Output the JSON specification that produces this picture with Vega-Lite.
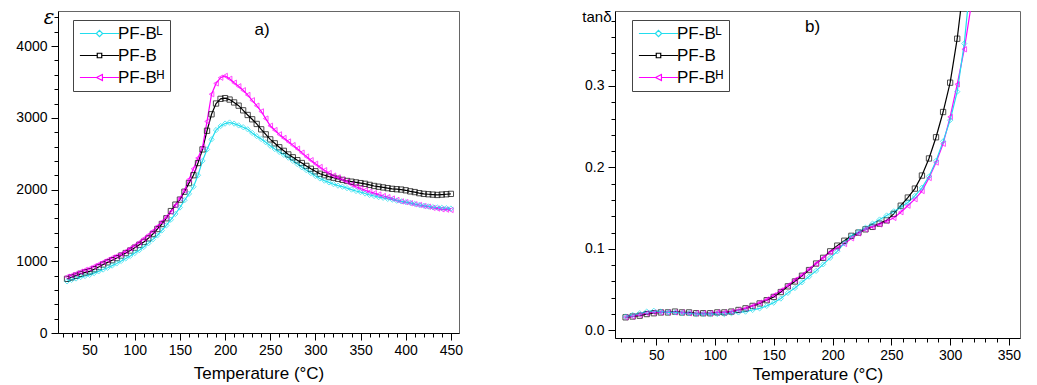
{
"$schema": "https://vega.github.io/schema/vega-lite/v6.json",
"padding": {"left": 15, "top": 6, "right": 5, "bottom": 0},
"background": "white",
"bounds": "flush",
"spacing": 156,
"config": {
  "font": "Liberation Sans",
  "view": {"stroke": "#666", "strokeWidth": 1},
  "axis": {"domainColor": "#000", "tickColor": "#000", "labelColor": "#000", "titleColor": "#000", "grid": false, "labelFont": "Liberation Sans", "titleFont": "Liberation Sans", "labelFontSize": 14, "titleFontSize": 17, "titleFontWeight": "normal", "tickWidth": 1, "domainWidth": 1, "labelOverlap": false, "labelFlush": false}
},
"datasets": {
"left": [
{"T":25,"v":755,"s":"B"},{"T":30,"v":775,"s":"B"},{"T":35,"v":800,"s":"B"},{"T":40,"v":825,"s":"B"},{"T":45,"v":845,"s":"B"},{"T":50,"v":860,"s":"B"},{"T":55,"v":890,"s":"B"},{"T":60,"v":920,"s":"B"},{"T":65,"v":955,"s":"B"},{"T":70,"v":985,"s":"B"},{"T":75,"v":1015,"s":"B"},{"T":80,"v":1045,"s":"B"},{"T":85,"v":1080,"s":"B"},{"T":90,"v":1115,"s":"B"},{"T":95,"v":1150,"s":"B"},{"T":100,"v":1190,"s":"B"},{"T":105,"v":1230,"s":"B"},{"T":110,"v":1270,"s":"B"},{"T":115,"v":1320,"s":"B"},{"T":120,"v":1380,"s":"B"},{"T":125,"v":1450,"s":"B"},{"T":130,"v":1520,"s":"B"},{"T":135,"v":1600,"s":"B"},{"T":140,"v":1700,"s":"B"},{"T":145,"v":1790,"s":"B"},{"T":150,"v":1860,"s":"B"},{"T":155,"v":1970,"s":"B"},{"T":160,"v":2090,"s":"B"},{"T":165,"v":2200,"s":"B"},{"T":170,"v":2370,"s":"B"},{"T":175,"v":2560,"s":"B"},{"T":180,"v":2820,"s":"B"},{"T":185,"v":3050,"s":"B"},{"T":190,"v":3200,"s":"B"},{"T":195,"v":3265,"s":"B"},{"T":200,"v":3275,"s":"B"},{"T":205,"v":3255,"s":"B"},{"T":210,"v":3215,"s":"B"},{"T":215,"v":3170,"s":"B"},{"T":220,"v":3105,"s":"B"},{"T":225,"v":3040,"s":"B"},{"T":230,"v":2980,"s":"B"},{"T":235,"v":2915,"s":"B"},{"T":240,"v":2840,"s":"B"},{"T":245,"v":2770,"s":"B"},{"T":250,"v":2700,"s":"B"},{"T":255,"v":2645,"s":"B"},{"T":260,"v":2590,"s":"B"},{"T":265,"v":2540,"s":"B"},{"T":270,"v":2490,"s":"B"},{"T":275,"v":2450,"s":"B"},{"T":280,"v":2410,"s":"B"},{"T":285,"v":2370,"s":"B"},{"T":290,"v":2330,"s":"B"},{"T":295,"v":2290,"s":"B"},{"T":300,"v":2255,"s":"B"},{"T":305,"v":2220,"s":"B"},{"T":310,"v":2200,"s":"B"},{"T":315,"v":2180,"s":"B"},{"T":320,"v":2165,"s":"B"},{"T":325,"v":2150,"s":"B"},{"T":330,"v":2135,"s":"B"},{"T":335,"v":2120,"s":"B"},{"T":340,"v":2110,"s":"B"},{"T":345,"v":2100,"s":"B"},{"T":350,"v":2090,"s":"B"},{"T":355,"v":2080,"s":"B"},{"T":360,"v":2065,"s":"B"},{"T":365,"v":2050,"s":"B"},{"T":370,"v":2040,"s":"B"},{"T":375,"v":2030,"s":"B"},{"T":380,"v":2020,"s":"B"},{"T":385,"v":2010,"s":"B"},{"T":390,"v":2005,"s":"B"},{"T":395,"v":2000,"s":"B"},{"T":400,"v":1990,"s":"B"},{"T":405,"v":1975,"s":"B"},{"T":410,"v":1965,"s":"B"},{"T":415,"v":1950,"s":"B"},{"T":420,"v":1940,"s":"B"},{"T":425,"v":1935,"s":"B"},{"T":430,"v":1930,"s":"B"},{"T":435,"v":1925,"s":"B"},{"T":440,"v":1930,"s":"B"},{"T":445,"v":1935,"s":"B"},{"T":450,"v":1940,"s":"B"},
{"T":25,"v":785,"s":"H"},{"T":30,"v":805,"s":"H"},{"T":35,"v":830,"s":"H"},{"T":40,"v":855,"s":"H"},{"T":45,"v":880,"s":"H"},{"T":50,"v":900,"s":"H"},{"T":55,"v":930,"s":"H"},{"T":60,"v":960,"s":"H"},{"T":65,"v":990,"s":"H"},{"T":70,"v":1020,"s":"H"},{"T":75,"v":1050,"s":"H"},{"T":80,"v":1075,"s":"H"},{"T":85,"v":1100,"s":"H"},{"T":90,"v":1140,"s":"H"},{"T":95,"v":1180,"s":"H"},{"T":100,"v":1220,"s":"H"},{"T":105,"v":1265,"s":"H"},{"T":110,"v":1315,"s":"H"},{"T":115,"v":1365,"s":"H"},{"T":120,"v":1420,"s":"H"},{"T":125,"v":1485,"s":"H"},{"T":130,"v":1550,"s":"H"},{"T":135,"v":1620,"s":"H"},{"T":140,"v":1690,"s":"H"},{"T":145,"v":1780,"s":"H"},{"T":150,"v":1880,"s":"H"},{"T":155,"v":1990,"s":"H"},{"T":160,"v":2140,"s":"H"},{"T":165,"v":2290,"s":"H"},{"T":170,"v":2440,"s":"H"},{"T":175,"v":2590,"s":"H"},{"T":180,"v":2950,"s":"H"},{"T":185,"v":3330,"s":"H"},{"T":190,"v":3480,"s":"H"},{"T":195,"v":3560,"s":"H"},{"T":200,"v":3585,"s":"H"},{"T":205,"v":3545,"s":"H"},{"T":210,"v":3490,"s":"H"},{"T":215,"v":3440,"s":"H"},{"T":220,"v":3385,"s":"H"},{"T":225,"v":3320,"s":"H"},{"T":230,"v":3245,"s":"H"},{"T":235,"v":3170,"s":"H"},{"T":240,"v":3090,"s":"H"},{"T":245,"v":2990,"s":"H"},{"T":250,"v":2890,"s":"H"},{"T":255,"v":2830,"s":"H"},{"T":260,"v":2770,"s":"H"},{"T":265,"v":2720,"s":"H"},{"T":270,"v":2670,"s":"H"},{"T":275,"v":2620,"s":"H"},{"T":280,"v":2570,"s":"H"},{"T":285,"v":2515,"s":"H"},{"T":290,"v":2460,"s":"H"},{"T":295,"v":2410,"s":"H"},{"T":300,"v":2360,"s":"H"},{"T":305,"v":2315,"s":"H"},{"T":310,"v":2270,"s":"H"},{"T":315,"v":2230,"s":"H"},{"T":320,"v":2195,"s":"H"},{"T":325,"v":2170,"s":"H"},{"T":330,"v":2140,"s":"H"},{"T":335,"v":2110,"s":"H"},{"T":340,"v":2070,"s":"H"},{"T":345,"v":2040,"s":"H"},{"T":350,"v":2015,"s":"H"},{"T":355,"v":1990,"s":"H"},{"T":360,"v":1970,"s":"H"},{"T":365,"v":1950,"s":"H"},{"T":370,"v":1930,"s":"H"},{"T":375,"v":1910,"s":"H"},{"T":380,"v":1895,"s":"H"},{"T":385,"v":1875,"s":"H"},{"T":390,"v":1855,"s":"H"},{"T":395,"v":1835,"s":"H"},{"T":400,"v":1825,"s":"H"},{"T":405,"v":1810,"s":"H"},{"T":410,"v":1795,"s":"H"},{"T":415,"v":1785,"s":"H"},{"T":420,"v":1770,"s":"H"},{"T":425,"v":1760,"s":"H"},{"T":430,"v":1745,"s":"H"},{"T":435,"v":1735,"s":"H"},{"T":440,"v":1725,"s":"H"},{"T":445,"v":1720,"s":"H"},{"T":450,"v":1715,"s":"H"},
{"T":25,"v":720,"s":"L"},{"T":30,"v":740,"s":"L"},{"T":35,"v":760,"s":"L"},{"T":40,"v":780,"s":"L"},{"T":45,"v":795,"s":"L"},{"T":50,"v":810,"s":"L"},{"T":55,"v":835,"s":"L"},{"T":60,"v":860,"s":"L"},{"T":65,"v":885,"s":"L"},{"T":70,"v":910,"s":"L"},{"T":75,"v":940,"s":"L"},{"T":80,"v":970,"s":"L"},{"T":85,"v":1005,"s":"L"},{"T":90,"v":1040,"s":"L"},{"T":95,"v":1075,"s":"L"},{"T":100,"v":1115,"s":"L"},{"T":105,"v":1155,"s":"L"},{"T":110,"v":1200,"s":"L"},{"T":115,"v":1250,"s":"L"},{"T":120,"v":1305,"s":"L"},{"T":125,"v":1360,"s":"L"},{"T":130,"v":1430,"s":"L"},{"T":135,"v":1500,"s":"L"},{"T":140,"v":1580,"s":"L"},{"T":145,"v":1660,"s":"L"},{"T":150,"v":1750,"s":"L"},{"T":155,"v":1850,"s":"L"},{"T":160,"v":1940,"s":"L"},{"T":165,"v":2040,"s":"L"},{"T":170,"v":2200,"s":"L"},{"T":175,"v":2400,"s":"L"},{"T":180,"v":2560,"s":"L"},{"T":185,"v":2700,"s":"L"},{"T":190,"v":2830,"s":"L"},{"T":195,"v":2885,"s":"L"},{"T":200,"v":2920,"s":"L"},{"T":205,"v":2935,"s":"L"},{"T":210,"v":2920,"s":"L"},{"T":215,"v":2895,"s":"L"},{"T":220,"v":2870,"s":"L"},{"T":225,"v":2840,"s":"L"},{"T":230,"v":2790,"s":"L"},{"T":235,"v":2745,"s":"L"},{"T":240,"v":2705,"s":"L"},{"T":245,"v":2660,"s":"L"},{"T":250,"v":2610,"s":"L"},{"T":255,"v":2565,"s":"L"},{"T":260,"v":2525,"s":"L"},{"T":265,"v":2485,"s":"L"},{"T":270,"v":2445,"s":"L"},{"T":275,"v":2400,"s":"L"},{"T":280,"v":2355,"s":"L"},{"T":285,"v":2310,"s":"L"},{"T":290,"v":2270,"s":"L"},{"T":295,"v":2230,"s":"L"},{"T":300,"v":2190,"s":"L"},{"T":305,"v":2155,"s":"L"},{"T":310,"v":2125,"s":"L"},{"T":315,"v":2100,"s":"L"},{"T":320,"v":2075,"s":"L"},{"T":325,"v":2055,"s":"L"},{"T":330,"v":2040,"s":"L"},{"T":335,"v":2020,"s":"L"},{"T":340,"v":2000,"s":"L"},{"T":345,"v":1980,"s":"L"},{"T":350,"v":1965,"s":"L"},{"T":355,"v":1945,"s":"L"},{"T":360,"v":1925,"s":"L"},{"T":365,"v":1910,"s":"L"},{"T":370,"v":1895,"s":"L"},{"T":375,"v":1885,"s":"L"},{"T":380,"v":1870,"s":"L"},{"T":385,"v":1860,"s":"L"},{"T":390,"v":1845,"s":"L"},{"T":395,"v":1835,"s":"L"},{"T":400,"v":1825,"s":"L"},{"T":405,"v":1815,"s":"L"},{"T":410,"v":1800,"s":"L"},{"T":415,"v":1785,"s":"L"},{"T":420,"v":1775,"s":"L"},{"T":425,"v":1765,"s":"L"},{"T":430,"v":1755,"s":"L"},{"T":435,"v":1750,"s":"L"},{"T":440,"v":1745,"s":"L"},{"T":445,"v":1740,"s":"L"},{"T":450,"v":1735,"s":"L"}
],
"right": [
{"T":24,"v":0.016,"s":"B"},{"T":30,"v":0.017,"s":"B"},{"T":36,"v":0.018,"s":"B"},{"T":42,"v":0.020,"s":"B"},{"T":48,"v":0.021,"s":"B"},{"T":54,"v":0.022,"s":"B"},{"T":60,"v":0.022,"s":"B"},{"T":66,"v":0.023,"s":"B"},{"T":72,"v":0.022,"s":"B"},{"T":78,"v":0.022,"s":"B"},{"T":84,"v":0.021,"s":"B"},{"T":90,"v":0.021,"s":"B"},{"T":96,"v":0.021,"s":"B"},{"T":102,"v":0.022,"s":"B"},{"T":108,"v":0.022,"s":"B"},{"T":114,"v":0.023,"s":"B"},{"T":120,"v":0.025,"s":"B"},{"T":126,"v":0.027,"s":"B"},{"T":132,"v":0.030,"s":"B"},{"T":138,"v":0.033,"s":"B"},{"T":144,"v":0.037,"s":"B"},{"T":150,"v":0.041,"s":"B"},{"T":156,"v":0.047,"s":"B"},{"T":162,"v":0.054,"s":"B"},{"T":168,"v":0.060,"s":"B"},{"T":174,"v":0.067,"s":"B"},{"T":180,"v":0.074,"s":"B"},{"T":186,"v":0.082,"s":"B"},{"T":192,"v":0.089,"s":"B"},{"T":198,"v":0.097,"s":"B"},{"T":204,"v":0.104,"s":"B"},{"T":210,"v":0.110,"s":"B"},{"T":216,"v":0.116,"s":"B"},{"T":222,"v":0.120,"s":"B"},{"T":228,"v":0.124,"s":"B"},{"T":234,"v":0.127,"s":"B"},{"T":240,"v":0.131,"s":"B"},{"T":246,"v":0.135,"s":"B"},{"T":252,"v":0.143,"s":"B"},{"T":258,"v":0.153,"s":"B"},{"T":264,"v":0.163,"s":"B"},{"T":270,"v":0.174,"s":"B"},{"T":276,"v":0.190,"s":"B"},{"T":282,"v":0.211,"s":"B"},{"T":288,"v":0.237,"s":"B"},{"T":294,"v":0.268,"s":"B"},{"T":300,"v":0.304,"s":"B"},{"T":306,"v":0.358,"s":"B"},{"T":312,"v":0.430,"s":"B"},
{"T":24,"v":0.016,"s":"H"},{"T":30,"v":0.017,"s":"H"},{"T":36,"v":0.019,"s":"H"},{"T":42,"v":0.021,"s":"H"},{"T":48,"v":0.022,"s":"H"},{"T":54,"v":0.022,"s":"H"},{"T":60,"v":0.022,"s":"H"},{"T":66,"v":0.022,"s":"H"},{"T":72,"v":0.022,"s":"H"},{"T":78,"v":0.021,"s":"H"},{"T":84,"v":0.021,"s":"H"},{"T":90,"v":0.021,"s":"H"},{"T":96,"v":0.021,"s":"H"},{"T":102,"v":0.022,"s":"H"},{"T":108,"v":0.022,"s":"H"},{"T":114,"v":0.023,"s":"H"},{"T":120,"v":0.025,"s":"H"},{"T":126,"v":0.027,"s":"H"},{"T":132,"v":0.030,"s":"H"},{"T":138,"v":0.034,"s":"H"},{"T":144,"v":0.038,"s":"H"},{"T":150,"v":0.043,"s":"H"},{"T":156,"v":0.049,"s":"H"},{"T":162,"v":0.055,"s":"H"},{"T":168,"v":0.062,"s":"H"},{"T":174,"v":0.068,"s":"H"},{"T":180,"v":0.075,"s":"H"},{"T":186,"v":0.082,"s":"H"},{"T":192,"v":0.089,"s":"H"},{"T":198,"v":0.096,"s":"H"},{"T":204,"v":0.101,"s":"H"},{"T":210,"v":0.106,"s":"H"},{"T":216,"v":0.113,"s":"H"},{"T":222,"v":0.119,"s":"H"},{"T":228,"v":0.124,"s":"H"},{"T":234,"v":0.127,"s":"H"},{"T":240,"v":0.130,"s":"H"},{"T":246,"v":0.134,"s":"H"},{"T":252,"v":0.138,"s":"H"},{"T":258,"v":0.145,"s":"H"},{"T":264,"v":0.153,"s":"H"},{"T":270,"v":0.161,"s":"H"},{"T":276,"v":0.171,"s":"H"},{"T":282,"v":0.187,"s":"H"},{"T":288,"v":0.206,"s":"H"},{"T":294,"v":0.229,"s":"H"},{"T":300,"v":0.262,"s":"H"},{"T":306,"v":0.302,"s":"H"},{"T":312,"v":0.345,"s":"H"},{"T":318,"v":0.400,"s":"H"},{"T":324,"v":0.470,"s":"H"},
{"T":24,"v":0.017,"s":"L"},{"T":30,"v":0.019,"s":"L"},{"T":36,"v":0.021,"s":"L"},{"T":42,"v":0.023,"s":"L"},{"T":48,"v":0.024,"s":"L"},{"T":54,"v":0.023,"s":"L"},{"T":60,"v":0.022,"s":"L"},{"T":66,"v":0.022,"s":"L"},{"T":72,"v":0.021,"s":"L"},{"T":78,"v":0.021,"s":"L"},{"T":84,"v":0.020,"s":"L"},{"T":90,"v":0.020,"s":"L"},{"T":96,"v":0.020,"s":"L"},{"T":102,"v":0.020,"s":"L"},{"T":108,"v":0.020,"s":"L"},{"T":114,"v":0.021,"s":"L"},{"T":120,"v":0.022,"s":"L"},{"T":126,"v":0.023,"s":"L"},{"T":132,"v":0.025,"s":"L"},{"T":138,"v":0.027,"s":"L"},{"T":144,"v":0.030,"s":"L"},{"T":150,"v":0.034,"s":"L"},{"T":156,"v":0.039,"s":"L"},{"T":162,"v":0.046,"s":"L"},{"T":168,"v":0.052,"s":"L"},{"T":174,"v":0.059,"s":"L"},{"T":180,"v":0.066,"s":"L"},{"T":186,"v":0.073,"s":"L"},{"T":192,"v":0.081,"s":"L"},{"T":198,"v":0.089,"s":"L"},{"T":204,"v":0.097,"s":"L"},{"T":210,"v":0.107,"s":"L"},{"T":216,"v":0.116,"s":"L"},{"T":222,"v":0.121,"s":"L"},{"T":228,"v":0.126,"s":"L"},{"T":234,"v":0.131,"s":"L"},{"T":240,"v":0.136,"s":"L"},{"T":246,"v":0.141,"s":"L"},{"T":252,"v":0.146,"s":"L"},{"T":258,"v":0.151,"s":"L"},{"T":264,"v":0.157,"s":"L"},{"T":270,"v":0.165,"s":"L"},{"T":276,"v":0.175,"s":"L"},{"T":282,"v":0.189,"s":"L"},{"T":288,"v":0.208,"s":"L"},{"T":294,"v":0.232,"s":"L"},{"T":300,"v":0.258,"s":"L"},{"T":306,"v":0.293,"s":"L"},{"T":312,"v":0.352,"s":"L"},{"T":318,"v":0.440,"s":"L"}
]
},
"hconcat": [
{
 "width": 401, "height": 322,
 "resolve": {"axis": {"x": "independent", "y": "independent"}},
 "layer": [
  {"data": {"name": "left"},
   "mark": {"type": "line", "strokeWidth": 1.2, "clip": true},
   "encoding": {
    "x": {"field": "T", "type": "quantitative", "scale": {"domain": [15, 459], "nice": false, "zero": false},
      "axis": {"orient": "bottom", "title": "Temperature (°C)", "values": [50,100,150,200,250,300,350,400,450], "tickSize": 7, "labelPadding": 3, "titlePadding": 8}},
    "y": {"field": "v", "type": "quantitative", "scale": {"domain": [0, 4490], "nice": false, "zero": false},
      "axis": {"orient": "left", "title": "ε", "format": "d", "values": [0,1000,2000,3000,4000], "tickSize": 7, "labelPadding": 4,
        "titleAngle": 0, "titleAlign": "right", "titleBaseline": "alphabetic", "titleX": -4, "titleY": 12,
        "titleFont": "DejaVu Serif", "titleFontStyle": "italic", "titleFontSize": 20}},
    "color": {"field": "s", "type": "nominal", "scale": {"domain": ["L", "B", "H"], "range": ["#22DDEE", "#000000", "#FF00FF"]},
      "legend": {"title": null, "orient": "none", "legendX": 15, "legendY": 9, "padding": 5, "strokeColor": "#444", "fillColor": "white",
        "labelFont": "Liberation Sans", "labelFontSize": 17, "labelColor": "#000", "symbolSize": 196, "symbolOffset": 13, "labelOffset": 10, "rowPadding": 4,
        "labelExpr": "datum.value === 'L' ? 'PF-Bᴸ' : datum.value === 'B' ? 'PF-B' : 'PF-Bᴴ'",
        "encode": {"symbols": {"update": {
          "shape": {"signal": "datum.value === 'L' ? 'M-2.8,0H-0.5M0.5,0H2.8M0,-0.45L0.45,0L0,0.45L-0.45,0Z' : datum.value === 'B' ? 'M-2.8,0H-0.32M0.32,0H2.8M-0.32,-0.32H0.32V0.32H-0.32Z' : 'M-2.8,0H-0.42M0.42,0H2.8M-0.42,0L0.42,-0.42L0.42,0.42Z'"},
          "stroke": {"signal": "datum.value === 'L' ? '#22DDEE' : datum.value === 'B' ? '#000000' : '#FF00FF'"},
          "fill": {"value": "white"}, "strokeWidth": {"value": 1.2}, "opacity": {"value": 1}}}}}}
   }},
  {"data": {"name": "left"},
   "mark": {"type": "point", "filled": false, "size": 28, "strokeWidth": 1, "clip": true},
   "encoding": {
    "x": {"field": "T", "type": "quantitative",
      "axis": {"orient": "bottom", "title": null, "labels": false, "domain": false, "tickSize": 4, "values": [20,30,40,60,70,80,90,110,120,130,140,160,170,180,190,210,220,230,240,260,270,280,290,310,320,330,340,360,370,380,390,410,420,430,440]}},
    "y": {"field": "v", "type": "quantitative",
      "axis": {"orient": "left", "title": null, "labels": false, "domain": false, "tickSize": 4, "values": [200,400,600,800,1200,1400,1600,1800,2200,2400,2600,2800,3200,3400,3600,3800,4200,4400]}},
    "stroke": {"field": "s", "type": "nominal", "scale": {"domain": ["L", "B", "H"], "range": ["#22DDEE", "#000000", "#FF00FF"]}, "legend": null},
    "shape": {"field": "s", "type": "nominal", "scale": {"domain": ["L", "B", "H"], "range": ["diamond", "square", "triangle-left"]}, "legend": null}
   }},
  {"data": {"values": [{"T": 241, "v": 4226, "t": "a)"}]},
   "mark": {"type": "text", "fontSize": 17, "align": "center", "baseline": "middle", "font": "Liberation Sans", "color": "#000"},
   "encoding": {"x": {"field": "T", "type": "quantitative", "axis": null}, "y": {"field": "v", "type": "quantitative", "axis": null}, "text": {"field": "t"}}}
 ]
},
{
 "width": 405, "height": 327,
 "resolve": {"axis": {"x": "independent", "y": "independent"}},
 "layer": [
  {"data": {"name": "right"},
   "mark": {"type": "line", "strokeWidth": 1.2, "clip": true},
   "encoding": {
    "x": {"field": "T", "type": "quantitative", "scale": {"domain": [15, 359.4], "nice": false, "zero": false},
      "axis": {"orient": "bottom", "title": "Temperature (°C)", "values": [50,100,150,200,250,300,350], "tickSize": 7, "labelPadding": 3, "titlePadding": 4}},
    "y": {"field": "v", "type": "quantitative", "scale": {"domain": [-0.0094, 0.392], "nice": false, "zero": false},
      "axis": {"orient": "left", "title": "tanδ", "format": ".1f", "values": [0,0.1,0.2,0.3], "tickSize": 7, "labelPadding": 4,
        "titleAngle": 0, "titleAlign": "right", "titleBaseline": "alphabetic", "titleX": -4, "titleY": 10,
        "titleFontSize": 15}},
    "color": {"field": "s", "type": "nominal", "scale": {"domain": ["L", "B", "H"], "range": ["#22DDEE", "#000000", "#FF00FF"]},
      "legend": {"title": null, "orient": "none", "legendX": 17, "legendY": 9, "padding": 5, "strokeColor": "#444", "fillColor": "white",
        "labelFont": "Liberation Sans", "labelFontSize": 17, "labelColor": "#000", "symbolSize": 196, "symbolOffset": 13, "labelOffset": 10, "rowPadding": 4,
        "labelExpr": "datum.value === 'L' ? 'PF-Bᴸ' : datum.value === 'B' ? 'PF-B' : 'PF-Bᴴ'",
        "encode": {"symbols": {"update": {
          "shape": {"signal": "datum.value === 'L' ? 'M-2.8,0H-0.5M0.5,0H2.8M0,-0.45L0.45,0L0,0.45L-0.45,0Z' : datum.value === 'B' ? 'M-2.8,0H-0.32M0.32,0H2.8M-0.32,-0.32H0.32V0.32H-0.32Z' : 'M-2.8,0H-0.42M0.42,0H2.8M-0.42,0L0.42,-0.42L0.42,0.42Z'"},
          "stroke": {"signal": "datum.value === 'L' ? '#22DDEE' : datum.value === 'B' ? '#000000' : '#FF00FF'"},
          "fill": {"value": "white"}, "strokeWidth": {"value": 1.2}, "opacity": {"value": 1}}}}}}
   }},
  {"data": {"name": "right"},
   "mark": {"type": "point", "filled": false, "size": 28, "strokeWidth": 1, "clip": true},
   "encoding": {
    "x": {"field": "T", "type": "quantitative",
      "axis": {"orient": "bottom", "title": null, "labels": false, "domain": false, "tickSize": 4, "values": [20,30,40,60,70,80,90,110,120,130,140,160,170,180,190,210,220,230,240,260,270,280,290,310,320,330,340]}},
    "y": {"field": "v", "type": "quantitative",
      "axis": {"orient": "left", "title": null, "labels": false, "domain": false, "tickSize": 4, "values": [0.02,0.04,0.06,0.08,0.12,0.14,0.16,0.18,0.22,0.24,0.26,0.28,0.32,0.34,0.36,0.38]}},
    "stroke": {"field": "s", "type": "nominal", "scale": {"domain": ["L", "B", "H"], "range": ["#22DDEE", "#000000", "#FF00FF"]}, "legend": null},
    "shape": {"field": "s", "type": "nominal", "scale": {"domain": ["L", "B", "H"], "range": ["diamond", "square", "triangle-left"]}, "legend": null}
   }},
  {"data": {"values": [{"T": 183, "v": 0.3727, "t": "b)"}]},
   "mark": {"type": "text", "fontSize": 17, "align": "center", "baseline": "middle", "font": "Liberation Sans", "color": "#000"},
   "encoding": {"x": {"field": "T", "type": "quantitative", "axis": null}, "y": {"field": "v", "type": "quantitative", "axis": null}, "text": {"field": "t"}}}
 ]
}
],
"resolve": {"legend": {"color": "independent"}}
}
